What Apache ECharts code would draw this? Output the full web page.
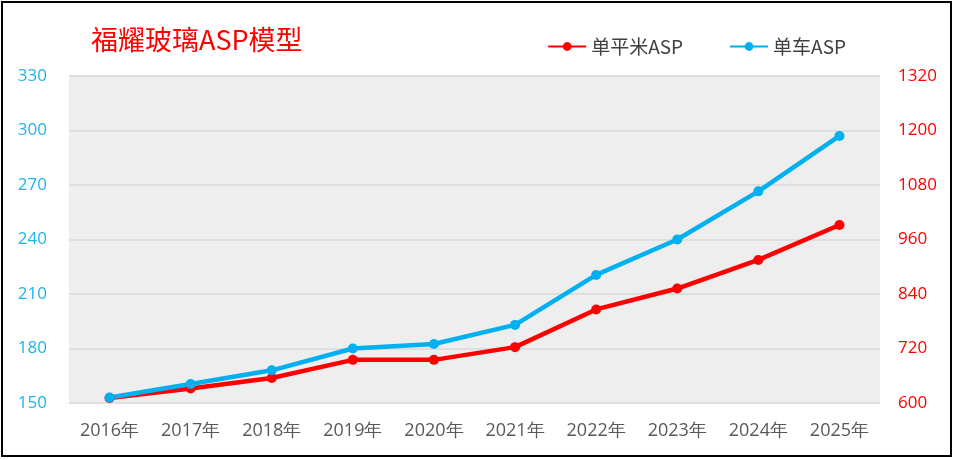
<!DOCTYPE html>
<html><head><meta charset="utf-8">
<script src="https://cdn.jsdelivr.net/npm/echarts@6/dist/echarts.min.js"></script>
<style>html,body{margin:0;padding:0;background:#fff}#c{width:957px;height:460px}</style>
</head><body><div id="c"></div>
<script>
var categories = ['2016年','2017年','2018年','2019年','2020年','2021年','2022年','2023年','2024年','2025年'];
var perSqmASP = [611, 632, 655, 695, 695, 723, 806, 852, 915, 992];
var perCarASP = [153, 160.5, 168, 180, 182.5, 193, 220.5, 240, 266.5, 297];
var leftTicks = [150, 330, 30];
var rightTicks = [600, 1320, 120];

var chart = echarts.init(document.getElementById('c'));
chart.setOption({
  backgroundColor: '#fff',
  animation: false,
  graphic: [
    {type:'rect', shape:{x:2, y:2, width:949, height:454}, style:{fill:'none', stroke:'#000', lineWidth:2}, z:-1},
    {type:'rect', shape:{x:69, y:76, width:811, height:327}, style:{fill:'#eeeeee'}, z:-2, silent:true}
  ],
  title: {
    text: '福耀玻璃ASP模型', left: 86, top: 21,
    textStyle: {color:'#ff0000', fontSize:27, fontWeight:'normal', fontFamily:'Noto Sans CJK SC'}
  },
  legend: {
    right: 106, top: 32, itemGap: 46, itemWidth: 38, itemHeight: 11,
    textStyle: {color:'#404040', fontSize:19, fontFamily:'Noto Sans CJK SC'},
    data: ['单平米ASP','单车ASP']
  },
  grid: {left:69, right:77, top:76, bottom:57},
  xAxis: {
    type:'category', data: categories, boundaryGap:true,
    axisLine:{show:false}, axisTick:{show:false},
    axisLabel:{color:'#595959', fontSize:18, margin:19, fontFamily:'Open Sans'}
  },
  yAxis: [
    {type:'value', min:leftTicks[0], max:leftTicks[1], interval:leftTicks[2], position:'left',
     axisLine:{show:false}, axisTick:{show:false},
     axisLabel:{color:'#1fb4f0', fontSize:17, margin:22, fontFamily:'Open Sans', formatter: function(v){return String(v);}},
     splitLine:{lineStyle:{color:'#d9d9d9', width:1.5}}},
    {type:'value', min:rightTicks[0], max:rightTicks[1], interval:rightTicks[2], position:'right',
     axisLine:{show:false}, axisTick:{show:false},
     axisLabel:{color:'#ff0000', fontSize:17, margin:18, fontFamily:'Open Sans', formatter: function(v){return String(v);}},
     splitLine:{show:false}}
  ],
  series: [
    {name:'单平米ASP', type:'line', yAxisIndex:1, data: perSqmASP,
     symbol:'circle', symbolSize:10, lineStyle:{width:4.5, color:'#ff0000'}, itemStyle:{color:'#ff0000'}},
    {name:'单车ASP', type:'line', yAxisIndex:0, data: perCarASP,
     symbol:'circle', symbolSize:10, lineStyle:{width:4.5, color:'#00b0f0'}, itemStyle:{color:'#00b0f0'}}
  ]
});
</script></body></html>
